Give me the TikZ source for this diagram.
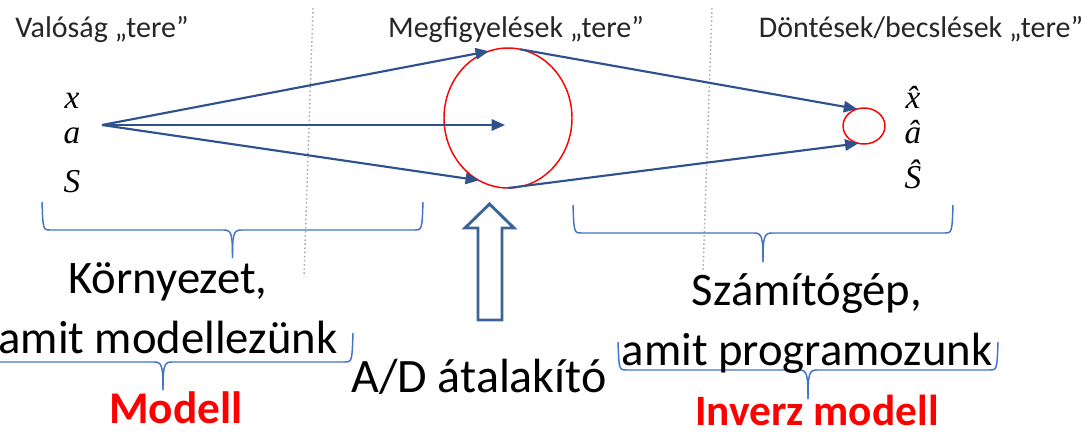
\documentclass[tikz,border=0pt]{standalone}
\usepackage{fontspec}
\setmainfont{Carlito}
\newfontfamily\tms{Liberation Serif}
\usetikzlibrary{shapes.geometric,arrows.meta}
\definecolor{arrblue}{RGB}{47,82,143}
\definecolor{brblue}{RGB}{68,114,196}
\definecolor{adblue}{RGB}{60,100,150}
\definecolor{toptxt}{RGB}{38,38,38}
\newcommand\obrace[5]{%
  \draw[bracestyle] (#1,#3) .. controls ({#1+1},#4) .. ({#1+9},#4) -- ({(#1+#2)/2-9},#4)
     .. controls ({(#1+#2)/2-1},#4) and ({(#1+#2)/2},{#4+4}) .. ({(#1+#2)/2},#5);
  \draw[bracestyle] (#2,#3) .. controls ({#2-1},#4) .. ({#2-9},#4) -- ({(#1+#2)/2+9},#4)
     .. controls ({(#1+#2)/2+1},#4) and ({(#1+#2)/2},{#4+4}) .. ({(#1+#2)/2},#5);}
\begin{document}
\begin{tikzpicture}[x=0.75pt,y=-0.75pt,
  toplabel/.style={anchor=base,inner sep=0,text=toptxt,font=\fontsize{22.5}{27}\selectfont},
  var/.style={anchor=base,inner sep=0,font=\tms\itshape\fontsize{25}{30}\selectfont},
  bigtxt/.style={anchor=base,inner sep=0,align=center,font=\fontsize{35}{45}\selectfont},
  redtxt/.style={anchor=base,inner sep=0,text=red,font=\bfseries\fontsize{34}{40}\selectfont},
  conn/.style={draw=arrblue,line width=1.6pt},
  arr/.style={conn,-{Triangle[length=10pt,width=8.5pt]}},
  sep/.style={draw=black!35,dotted,line width=1.1pt},
  bracestyle/.style={draw=brblue,line width=1.1pt},
  ring/.style={ellipse,draw=red,line width=1.1pt,inner sep=0,outer sep=0}]
\useasboundingbox (0,0) rectangle (1083,436);
% separators
\draw[sep] (313,8) -- (304,277);
\draw[sep] (712,8) -- (703,272);
% top labels
\node[toplabel] (t1) at (102,37) {Valóság „tere”};
\node[toplabel] (t2) at (516,37) {Megfigyelések „tere”};
\node[toplabel] (t3) at (921,37) {Döntések/becslések „tere”};
% variables
\node[var] (vx) at (72,108) {x};
\node[var] (va) at (72,143) {a};
\node[var] (vs) at (72,192) {S};
\node[var] (hx) at (913,108) {\^{x}};
\node[var] (ha) at (913,143) {â};
\node[var] (hs) at (913,188) {Ŝ};
% circles
\node[ring,minimum width=96pt,minimum height=105pt] (big) at (508,118) {};
\node[ring,minimum width=31.5pt,minimum height=27pt] (small) at (864,126) {};
\coordinate (apex) at (102,125);
\coordinate (mid) at (505,125);
% connectors
\draw[arr] (apex) -- (big.106);
\draw[arr] (apex) -- (mid);
\draw[arr] (apex) -- (big.245);
\draw[arr] (big.80) -- (small.112);
\draw[arr] (big.south) -- (small.252);
% braces
\obrace{42}{423}{202}{230}{258}
\obrace{573}{953}{205}{233}{262}
\obrace{-27}{353}{333}{362}{390}
\obrace{618}{998}{342}{370}{399}
% A/D hollow arrow
\draw[draw=adblue,line width=2.2pt,line join=miter,fill=white]
  (478,320) -- (478,228) -- (465,228) -- (489.5,204) -- (514,228) -- (502,228) -- (502,320) -- cycle;
% big texts
\node[bigtxt] (env) at (168,353) {Környezet,\\amit modellezünk};
\node[bigtxt] (comp) at (807,365) {Számítógép,\\amit programozunk};
\node[bigtxt,font=\fontsize{36}{45}\selectfont] (ad) at (479,392) {A/D átalakító};
\node[redtxt] (mod) at (176,423) {Modell};
\node[redtxt,font=\bfseries\fontsize{32.5}{38}\selectfont] (inv) at (817,425) {Inverz modell};
\end{tikzpicture}
\end{document}
